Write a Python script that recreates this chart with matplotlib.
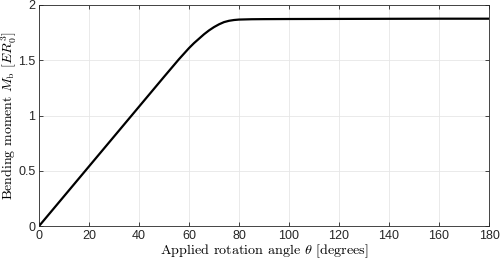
import matplotlib
matplotlib.use('Agg')
import matplotlib.pyplot as plt

# values
theta = [0, 10, 20, 30, 40, 50, 56, 58, 60, 62, 64, 66, 68, 70, 72, 74, 76, 78, 80, 85, 90, 100, 120, 140, 160, 180]
moment = [0, 0.27, 0.54, 0.81, 1.08, 1.35, 1.51, 1.56, 1.61, 1.655, 1.695, 1.735, 1.77, 1.80, 1.825, 1.845, 1.857, 1.864, 1.868, 1.871, 1.872, 1.873, 1.874, 1.875, 1.876, 1.876]

xticks = [0, 20, 40, 60, 80, 100, 120, 140, 160, 180]
yticks = [0, 0.5, 1, 1.5, 2]
ytick_labels = ['0', '0.5', '1', '1.5', '2']

plt.rcParams['mathtext.fontset'] = 'cm'

fig = plt.figure(figsize=(5.0, 2.62), dpi=100)
ax = fig.add_axes([0.078, 0.137, 0.9, 0.844])

ax.plot(theta, moment, color='black', linewidth=1.6)

ax.set_xlim(0, 180)
ax.set_ylim(0, 2)
ax.set_xticks(xticks)
ax.set_xticklabels([str(t) for t in xticks], family='Liberation Sans', fontsize=9, color='#262626')
ax.set_yticks(yticks)
ax.set_yticklabels(ytick_labels, family='Liberation Sans', fontsize=9, color='#262626')

ax.tick_params(direction='in', length=3, width=0.6, top=True, right=True, colors='#262626', pad=2.5)
ax.grid(True, color='#e6e6e6', linewidth=0.6)
ax.set_axisbelow(True)
for s in ax.spines.values():
    s.set_color('#262626')
    s.set_linewidth(0.6)

ax.set_xlabel(r'Applied rotation angle $\theta$ [degrees]', family='cmr10', fontsize=10.2, labelpad=1)
ax.set_ylabel(r'Bending moment $M_\mathrm{b}$ $[ER_0^3]$', family='cmr10', fontsize=10)
ax.yaxis.set_label_coords(-0.045, 0.5)

fig.savefig('out.png', dpi=100)
